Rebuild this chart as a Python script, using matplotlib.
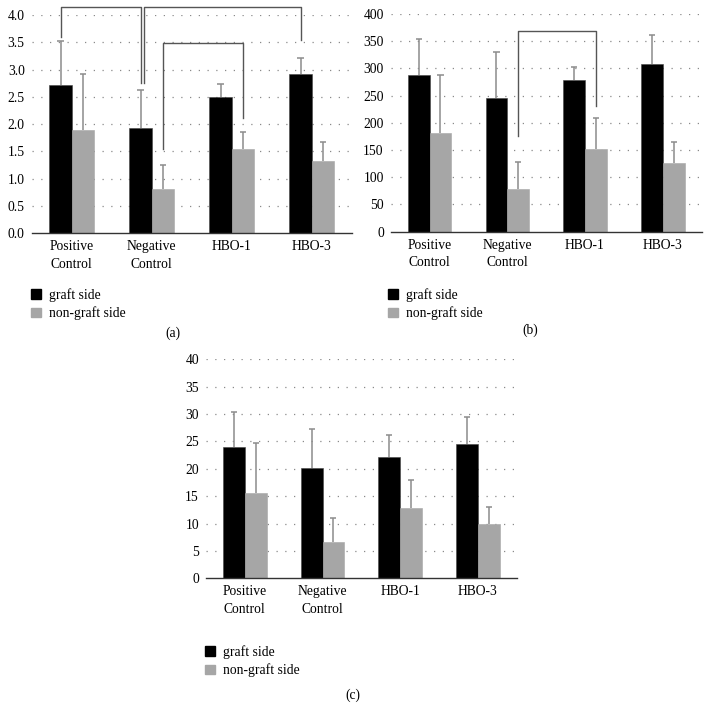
import numpy as np
import matplotlib
matplotlib.use('Agg')
from matplotlib import pyplot as plt
from matplotlib.patches import Patch

plt.rcParams['font.family'] = ['Liberation Serif', 'DejaVu Serif']
plt.rcParams['font.size'] = 9.8

groups = ['Positive\nControl', 'Negative\nControl', 'HBO-1', 'HBO-3']
series = ['graft side', 'non-graft side']

# panel (a)
a_graft = [2.71, 1.93, 2.50, 2.91]
a_graft_sd = [0.81, 0.70, 0.24, 0.31]
a_non = [1.89, 0.81, 1.54, 1.33]
a_non_sd = [1.02, 0.44, 0.32, 0.34]
a_ticks = [0.0, 0.5, 1.0, 1.5, 2.0, 2.5, 3.0, 3.5, 4.0]

# panel (b)
b_graft = [288, 245, 278, 309]
b_graft_sd = [66, 85, 25, 52]
b_non = [181, 78, 152, 127]
b_non_sd = [107, 50, 56, 37]
b_ticks = [0, 50, 100, 150, 200, 250, 300, 350, 400]

# panel (c)
c_graft = [23.9, 20.2, 22.2, 24.6]
c_graft_sd = [6.5, 7.0, 4.0, 4.8]
c_non = [15.5, 6.6, 12.8, 10.0]
c_non_sd = [9.2, 4.4, 5.1, 3.0]
c_ticks = [0, 5, 10, 15, 20, 25, 30, 35, 40]

# significance brackets: (group, series, low end), (group, series, low end), top
a_brackets = [((0, 0, 3.59), (1, 0, 2.76), 4.14),
              ((1, 0, 2.76), (3, 0, 3.55), 4.14),
              ((1, 1, 1.55), (2, 1, 2.11), 3.49)]
b_brackets = [((1, 1, 176), (2, 1, 231), 369)]

W = 0.28
BLACK = '#000000'
GREY = '#a6a6a6'
ERR = '#8c8c8c'


def upper_errors(ax, xs, vals, sds):
    # only the upper half of each error bar, with a cap on top
    tops = np.array(vals) + np.array(sds)
    ax.vlines(xs, vals, tops, color=ERR, linewidth=1.1, zorder=2)
    ax.hlines(tops, xs - 0.04, xs + 0.04, color=ERR, linewidth=1.1, zorder=2)


def draw_panel(ax, graft, graft_sd, non, non_sd, ticks, fmt, brackets, label, leg_xy, lab_xy):
    x = np.arange(len(groups))
    ax.bar(x - W / 2, graft, W, color=BLACK, edgecolor='#444444', linewidth=0.4, zorder=3)
    ax.bar(x + W / 2, non, W, color=GREY, edgecolor=GREY, linewidth=0.4, zorder=3)
    upper_errors(ax, x - W / 2, graft, graft_sd)
    upper_errors(ax, x + W / 2, non, non_sd)

    ax.set_xlim(-0.5, len(groups) - 0.5)
    ax.set_ylim(ticks[0], ticks[-1])
    ax.set_yticks(ticks)
    ax.set_yticklabels([fmt.format(t) for t in ticks])
    ax.set_xticks(x)
    ax.set_xticklabels(groups, linespacing=1.45)
    ax.tick_params(axis='both', length=0, pad=5)
    for t in ticks[1:]:
        ax.axhline(t, color='#8a8a8a', linewidth=0.9, linestyle=(0, (1, 6)), zorder=1)
    for s in ['top', 'right', 'left']:
        ax.spines[s].set_visible(False)
    ax.spines['bottom'].set_color('#333333')
    ax.spines['bottom'].set_linewidth(1.0)
    ax.spines['bottom'].set_zorder(4)

    used = set()
    for (g1, s1, y1), (g2, s2, y2), top in brackets:
        x1 = g1 + (W / 2 if s1 else -W / 2)
        x2 = g2 + (W / 2 if s2 else -W / 2)
        # two lines meeting on one bar are set side by side
        if (g1, s1) in used:
            x1 += 0.04
        if (g2, s2) in used:
            x2 += 0.04
        used.add((g1, s1))
        used.add((g2, s2))
        ax.plot([x1, x1, x2, x2], [y1, top, top, y2], color='#555555', linewidth=1.0,
                clip_on=False, zorder=4)

    handles = [Patch(facecolor=BLACK, edgecolor=BLACK), Patch(facecolor=GREY, edgecolor=GREY)]
    fig.legend(handles, series, loc='upper left', bbox_to_anchor=leg_xy, frameon=False,
               handlelength=0.7, handleheight=0.7, handletextpad=0.6, labelspacing=0.35,
               borderaxespad=0, borderpad=0)
    fig.text(lab_xy[0], lab_xy[1], label, ha='center', va='center')


fig = plt.figure(figsize=(7.1, 7.21), dpi=100)
ax_a = fig.add_axes([31.7 / 710, 1 - 233.3 / 721, 320 / 710, 218.3 / 721])
ax_b = fig.add_axes([390.7 / 710, 1 - 231.7 / 721, 311 / 710, 217.7 / 721])
ax_c = fig.add_axes([206 / 710, 1 - 578.3 / 721, 310.7 / 710, 219 / 721])

draw_panel(ax_a, a_graft, a_graft_sd, a_non, a_non_sd, a_ticks, '{:.1f}', a_brackets,
           '(a)', (31 / 710, 1 - 288 / 721), (173 / 710, 1 - 333 / 721))
draw_panel(ax_b, b_graft, b_graft_sd, b_non, b_non_sd, b_ticks, '{:.0f}', b_brackets,
           '(b)', (388 / 710, 1 - 288 / 721), (530 / 710, 1 - 330 / 721))
draw_panel(ax_c, c_graft, c_graft_sd, c_non, c_non_sd, c_ticks, '{:.0f}', [],
           '(c)', (205 / 710, 1 - 645 / 721), (353 / 710, 1 - 695 / 721))

fig.savefig('out.png', dpi=100)
